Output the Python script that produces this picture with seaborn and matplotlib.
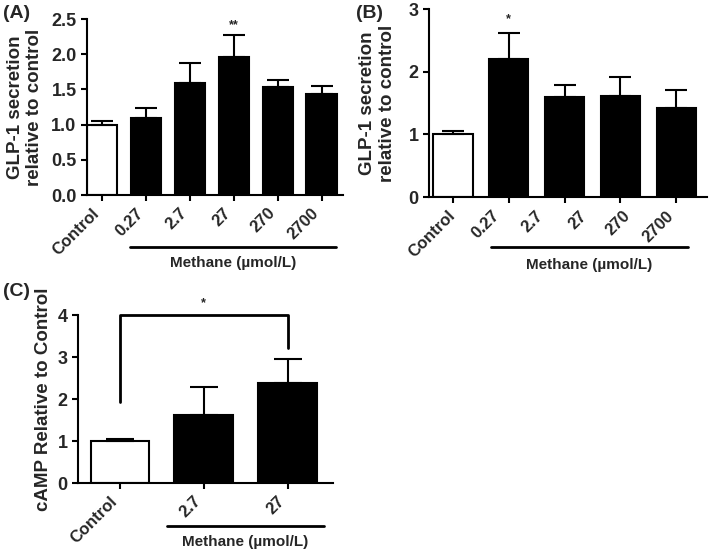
import numpy as np
import seaborn as sns
import matplotlib.pyplot as plt
from matplotlib.lines import Line2D

sns.set_style('ticks')
plt.rcParams['font.family'] = ['Liberation Sans', 'DejaVu Sans']
plt.rcParams['font.weight'] = 'bold'
plt.rcParams['axes.labelweight'] = 'bold'

# panel A: GLP-1 secretion
a_groups = ['Control', '0.27', '2.7', '27', '270', '2700']
a_means = [1.00, 1.09, 1.59, 1.96, 1.53, 1.43]
a_err = [0.05, 0.15, 0.28, 0.31, 0.10, 0.12]

# panel B: GLP-1 secretion (5 bars, 6 labels as in the original figure)
b_groups = ['Control', 'M1', 'M2', 'M3', 'M4']
b_means = [1.00, 2.21, 1.59, 1.61, 1.42]
b_err = [0.06, 0.40, 0.20, 0.30, 0.28]
b_labels = ['Control', '0.27', '2.7', '27', '270', '2700']

# panel C: cAMP
c_groups = ['Control', '2.7', '27']
c_means = [1.01, 1.63, 2.38]
c_err = [0.03, 0.65, 0.57]

W, H = 709, 549
fig = plt.figure(figsize=(W / 100, H / 100), dpi=100)


def px_axes(left, top, right, bottom):
    return fig.add_axes([left / W, 1 - bottom / H, (right - left) / W, (bottom - top) / H])


def draw_bars(ax, groups, means, errs, capsize=8):
    colors = ['white'] + ['black'] * (len(groups) - 1)
    sns.barplot(x=groups, y=means, hue=groups, palette=colors, legend=False,
                saturation=1, edgecolor='black', linewidth=1.5, width=0.7, ax=ax)
    n = len(groups)
    ax.errorbar(np.arange(n), means, yerr=[np.zeros(n), errs], fmt='none',
                ecolor='black', elinewidth=1.5, capsize=capsize, capthick=1.5, zorder=1)
    sns.despine(ax=ax)
    for s in ['left', 'bottom']:
        ax.spines[s].set_linewidth(1.5)
        ax.spines[s].set_color('black')
    ax.tick_params(width=1.5, length=4, color='black', labelsize=13)
    ax.set_xlabel('')


def methane(x0, x1, y_line, y_text):
    fig.add_artist(Line2D([x0 / W, x1 / W], [1 - y_line / H, 1 - y_line / H],
                          color='black', lw=2))
    fig.text((x0 + x1) / 2 / W, 1 - y_text / H, 'Methane (µmol/L)', ha='center',
             va='center', fontsize=11, fontweight='bold')


# (A)
ax_a = px_axes(87, 19, 343, 195)
draw_bars(ax_a, a_groups, a_means, a_err)
ax_a.set_xlim(-0.34, 5.48)
ax_a.set_ylim(0, 2.5)
ax_a.set_yticks(np.arange(0, 2.51, 0.5))
ax_a.set_yticklabels([f'{v:.1f}' for v in np.arange(0, 2.51, 0.5)])
ax_a.set_xticks(range(len(a_groups)))
ax_a.set_xticklabels(a_groups, rotation=45, ha='right', fontsize=12)
ax_a.set_ylabel('GLP-1 secretion\nrelative to control', fontsize=13.5,
                linespacing=1.15, labelpad=6)
ax_a.text(3, 2.41, '**', ha='center', va='center', fontsize=9)
fig.text(3 / W, 1 - 13 / H, '(A)', fontsize=14, fontweight='bold', va='center')
methane(130, 336, 247, 263)

# (B)
ax_b = px_axes(429, 9, 707, 197)
draw_bars(ax_b, b_groups, b_means, b_err)
ax_b.set_xlim(-0.43, 4.55)
ax_b.set_ylim(0, 3)
ax_b.set_yticks([0, 1, 2, 3])
ax_b.set_xticks(range(len(b_groups)))
ax_b.set_xticklabels([''] * len(b_groups))
ax_b.xaxis.remove_overlapping_locs = False
ax_b.set_xticks(np.linspace(0.1, 4.0, len(b_labels)), minor=True)
ax_b.set_xticklabels(b_labels, minor=True, rotation=45, ha='right')
ax_b.tick_params(axis='x', which='minor', length=0, labelsize=12, pad=8)
ax_b.set_ylabel('GLP-1 secretion\nrelative to control', fontsize=13.5,
                linespacing=1.2, labelpad=9)
ax_b.text(1, 2.84, '*', ha='center', va='center', fontsize=9)
fig.text(356 / W, 1 - 13 / H, '(B)', fontsize=14, fontweight='bold', va='center')
methane(491, 688, 247, 265)

# (C)
ax_c = px_axes(78, 315, 333, 483)
draw_bars(ax_c, c_groups, c_means, c_err, capsize=10)
ax_c.set_xlim(-0.5, 2.54)
ax_c.set_ylim(0, 4)
ax_c.set_yticks([0, 1, 2, 3, 4])
ax_c.set_xticks(range(len(c_groups)))
ax_c.set_xticklabels(c_groups, rotation=45, ha='right', fontsize=12)
ax_c.set_ylabel('cAMP Relative to Control', fontsize=13.5)
ax_c.plot([0, 0, 2, 2], [1.94, 4.0, 4.0, 3.21], color='black', lw=2, clip_on=False)
ax_c.text(1, 4.28, '*', ha='center', va='center', fontsize=9)
fig.text(3 / W, 1 - 291 / H, '(C)', fontsize=14, fontweight='bold', va='center')
methane(167, 324, 526, 542)

fig.savefig('out.png', dpi=100)
